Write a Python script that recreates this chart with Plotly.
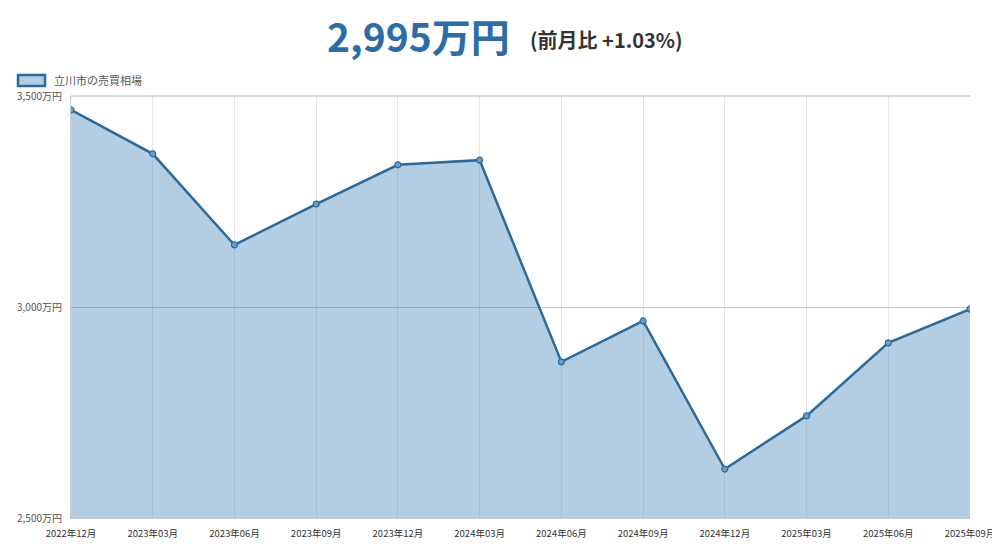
import plotly.graph_objects as go

months = ["2022年12月", "2023年03月", "2023年06月", "2023年09月", "2023年12月", "2024年03月",
          "2024年06月", "2024年09月", "2024年12月", "2025年03月", "2025年06月", "2025年09月"]
prices = [3467, 3363, 3147, 3244, 3337, 3348, 2870, 2967, 2616, 2742, 2915, 2995]
y_ticks = [2500, 3000, 3500]
y_tick_labels = ["2,500万円", "3,000万円", "3,500万円"]
series_name = "立川市の売買相場"
headline_value = "2,995万円"
headline_change = "(前月比 +1.03%)"

LINE = "#2b6a9b"
FILL = "rgba(65,130,185,0.4)"
FONT = "Noto Sans CJK JP"

# page body has an 8px margin: compensate so plot area is at x 71..970, y 96..518
W, H = 1000, 554
L, R, T, B = 63, 38, 88, 44
PW, PH = 899, 422


def px(x):
    return (x - 71) / PW


def py(y):
    return (518 - y) / PH


x_idx = list(range(len(months)))

fig = go.Figure()
fig.add_trace(go.Scatter(
    x=x_idx, y=prices, name=series_name, mode="lines+markers",
    line=dict(color=LINE, width=2.5),
    marker=dict(size=6, color="#6d9cc4", line=dict(color=LINE, width=1.2)),
    fill="tozeroy", fillcolor=FILL,
    showlegend=False,
))

fig.update_layout(
    width=W, height=H,
    margin=dict(l=L, r=R, t=T, b=B, autoexpand=False),
    paper_bgcolor="white", plot_bgcolor="white",
    font=dict(family=FONT, size=10, color="#555"),
    xaxis=dict(
        range=[0, len(months) - 1], tickvals=x_idx, ticktext=months,
        showgrid=True, gridcolor="#e6e6e6", gridwidth=1, automargin=False,
        zeroline=False, showline=True, linecolor="#cccccc", linewidth=1,
        ticks="", ticklabelstandoff=7, tickfont=dict(size=9.5, color="#333"),
    ),
    yaxis=dict(
        range=[2500, 3500], tickvals=y_ticks, ticktext=y_tick_labels,
        showgrid=True, gridcolor="#c8c8c8", gridwidth=1, automargin=False,
        zeroline=False, showline=True, linecolor="#cccccc", linewidth=1,
        ticks="", ticklabelstandoff=6, tickfont=dict(size=10, color="#555"),
    ),
    shapes=[
        dict(type="rect", xref="paper", yref="paper", x0=0, x1=1, y0=1, y1=1,
             line=dict(color="#cccccc", width=1)),
        dict(type="rect", xref="paper", yref="paper",
             x0=px(18), x1=px(45), y0=py(86), y1=py(75),
             fillcolor="rgba(65,130,185,0.4)", line=dict(color=LINE, width=2.5)),
    ],
    annotations=[
        dict(xref="paper", yref="paper", x=px(52), y=py(80),
             xanchor="left", yanchor="middle", showarrow=False,
             text=series_name, font=dict(family=FONT, size=11, color="#555")),
        dict(xref="paper", yref="paper", x=px(512), y=py(35),
             xanchor="right", yanchor="middle", showarrow=False,
             text="<b>" + headline_value + "</b>",
             font=dict(family=FONT, size=39, color="#2e6da4")),
        dict(xref="paper", yref="paper", x=px(528), y=py(40),
             xanchor="left", yanchor="middle", showarrow=False,
             text="<b>" + headline_change + "</b>",
             font=dict(family=FONT, size=20, color="#333")),
    ],
)

fig.write_html("out.html")
